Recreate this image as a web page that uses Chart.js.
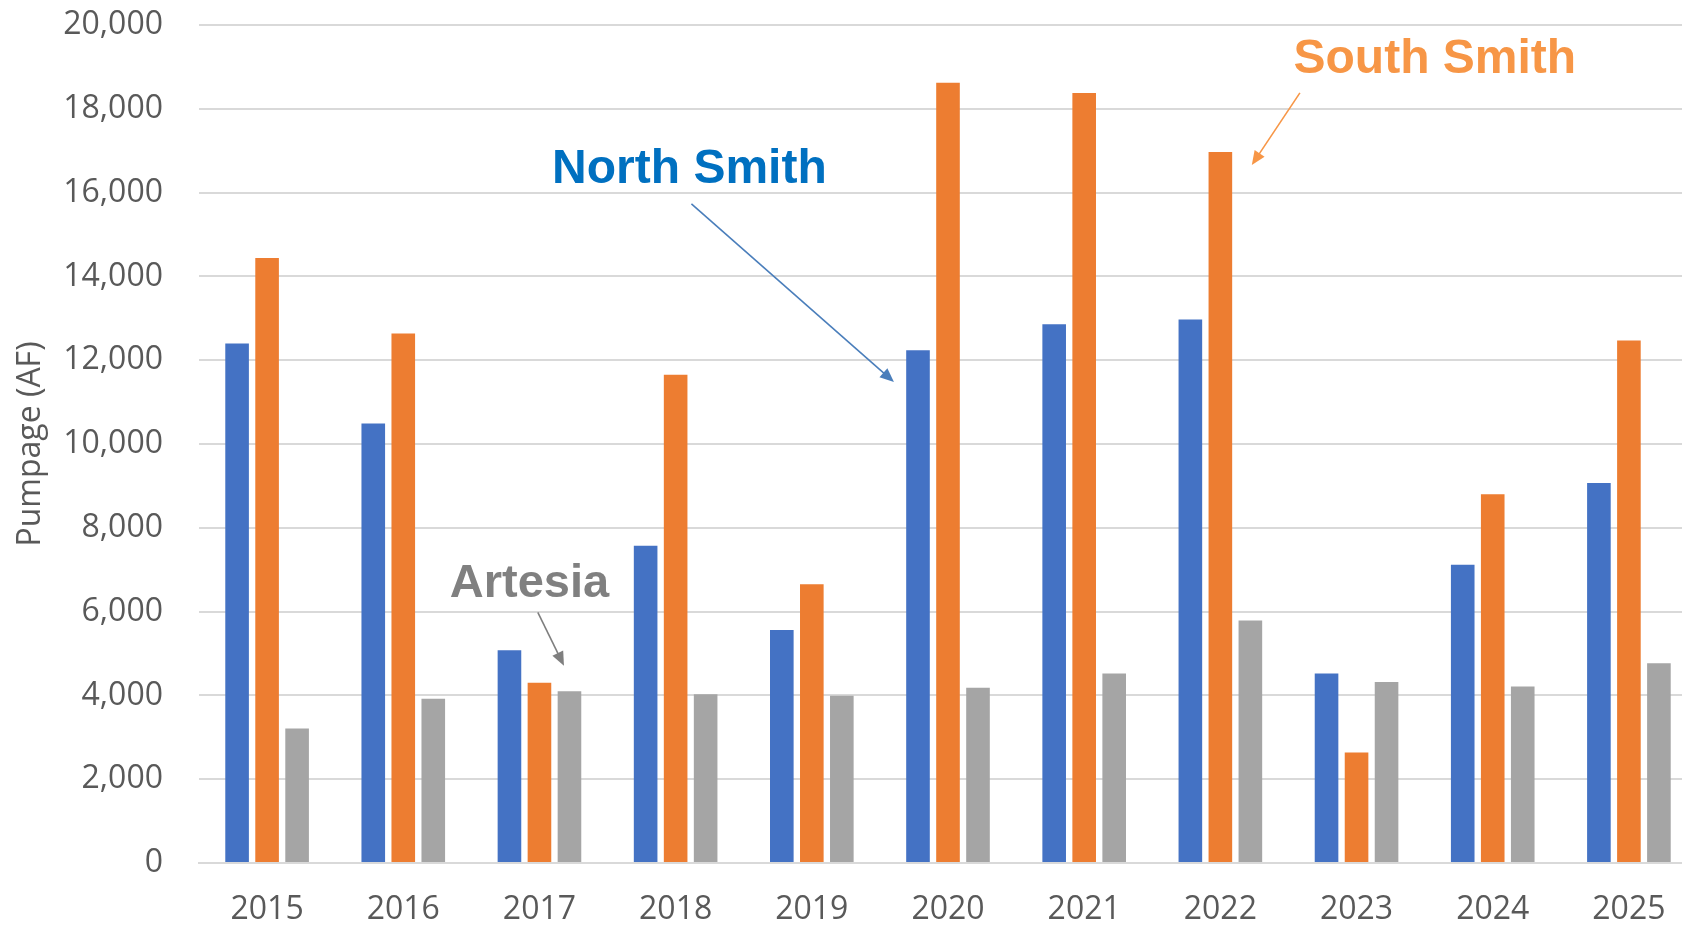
<!DOCTYPE html>
<html>
<head>
<meta charset="utf-8">
<script src="https://cdn.jsdelivr.net/npm/chart.js@4/dist/chart.umd.min.js"></script>
<style>
  html, body { margin: 0; padding: 0; background: #fff; overflow: hidden; }
  /* the plot runs a little past the right edge of the window, as in the original */
  #wrap { width: 1697px; height: 927px; position: relative; }
</style>
</head>
<body>
<div id="wrap"><canvas id="chart"></canvas></div>
<script>
// data (acre-feet)
const years = ['2015', '2016', '2017', '2018', '2019', '2020', '2021', '2022', '2023', '2024', '2025'];
const northSmith = [12400, 10490, 5080, 7570, 5560, 12240, 12860, 12970, 4520, 7120, 9070];
const southSmith = [14440, 12640, 4300, 11650, 6650, 18620, 18380, 16970, 2640, 8800, 12470];
const artesia = [3210, 3920, 4100, 4030, 3990, 4180, 4520, 5790, 4320, 4210, 4770];

// callouts, placed in category index / value units
const callouts = [
    { text: 'North Smith', color: '#0070C0', line: '#4A7EBB', size: 48, at: [3.101, 16240], from: [3.116, 15730], to: [4.603, 11480] },
    { text: 'South Smith', color: '#F79646', line: '#F79646', size: 48, at: [8.575, 18860], from: [7.584, 18380], to: [7.231, 16660] },
    { text: 'Artesia', color: '#808080', line: '#7F7F7F', size: 47, at: [1.927, 6340], from: [1.988, 5980], to: [2.180, 4710] }
];

const calloutPlugin = {
    id: 'callouts',
    afterDraw(chart) {
        const ctx = chart.ctx;
        const xs = chart.scales.x, ys = chart.scales.y;
        const px = p => [xs.getPixelForValue(p[0]), ys.getPixelForValue(p[1])];
        callouts.forEach(c => {
            ctx.save();
            // text
            const [tx, ty] = px(c.at);
            ctx.font = 'bold ' + c.size + 'px "Liberation Sans", Arial, sans-serif';
            ctx.fillStyle = c.color;
            ctx.textAlign = 'center';
            ctx.textBaseline = 'alphabetic';
            ctx.fillText(c.text, tx, ty);
            // arrow
            const [x1, y1] = px(c.from);
            const [x2, y2] = px(c.to);
            const ang = Math.atan2(y2 - y1, x2 - x1);
            const head = 14, half = 6;
            ctx.strokeStyle = c.line;
            ctx.fillStyle = c.line;
            ctx.lineWidth = 1.6;
            ctx.beginPath();
            ctx.moveTo(x1, y1);
            ctx.lineTo(x2 - Math.cos(ang) * head * 0.8, y2 - Math.sin(ang) * head * 0.8);
            ctx.stroke();
            ctx.beginPath();
            ctx.moveTo(x2, y2);
            ctx.lineTo(x2 - Math.cos(ang) * head - Math.sin(ang) * half, y2 - Math.sin(ang) * head + Math.cos(ang) * half);
            ctx.lineTo(x2 - Math.cos(ang) * head + Math.sin(ang) * half, y2 - Math.sin(ang) * head - Math.cos(ang) * half);
            ctx.closePath();
            ctx.fill();
            ctx.restore();
        });
    }
};

const tickFont = { family: '"Open Sans", "Noto Sans", sans-serif', size: 32 };

new Chart(document.getElementById('chart'), {
    type: 'bar',
    data: {
        labels: years,
        datasets: [
            { label: 'North Smith', data: northSmith, backgroundColor: '#4472C4' },
            { label: 'South Smith', data: southSmith, backgroundColor: '#ED7D31' },
            { label: 'Artesia', data: artesia, backgroundColor: '#A5A5A5' }
        ]
    },
    options: {
        responsive: true,
        maintainAspectRatio: false,
        animation: false,
        categoryPercentage: 0.661,
        barPercentage: 0.787,
        layout: { padding: { top: 25, right: 0, bottom: 0, left: 0 } },
        plugins: {
            legend: { display: false },
            tooltip: { enabled: false }
        },
        scales: {
            x: {
                grid: { display: false, drawTicks: false },
                border: { display: true, color: '#D9D9D9', width: 2 },
                ticks: { color: '#595959', font: tickFont, padding: 28, maxRotation: 0 },
                afterFit(scale) {
                    scale.height = 64;
                    scale.paddingLeft = 0;
                    scale.paddingRight = 0;
                }
            },
            y: {
                min: 0,
                max: 20000,
                grid: { color: '#D9D9D9', lineWidth: 2, drawTicks: false },
                border: { display: false },
                ticks: {
                    stepSize: 2000,
                    color: '#595959',
                    font: tickFont,
                    padding: 36,
                    callback: v => v.toLocaleString('en-US')
                },
                title: {
                    display: true,
                    text: 'Pumpage (AF)',
                    color: '#595959',
                    font: { family: '"Open Sans", "Noto Sans", sans-serif', size: 32 },
                    padding: { top: 12, bottom: 0 }
                },
                afterFit(scale) {
                    scale.width = 199;
                    // keep the plot top set by layout padding only
                    scale.paddingTop = 0;
                    scale.paddingBottom = 0;
                }
            }
        }
    },
    plugins: [calloutPlugin]
});
</script>
</body>
</html>
